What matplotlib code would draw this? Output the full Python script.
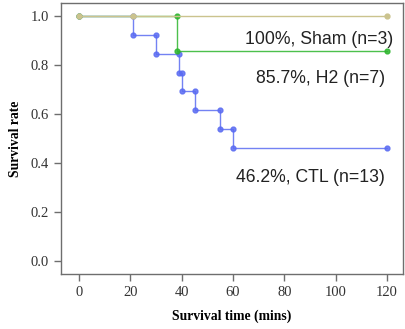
import matplotlib
matplotlib.use("Agg")
import matplotlib.pyplot as plt

# Kaplan-Meier step data (time in mins, survival rate)
ctl_t = [0, 21, 21, 30, 30, 39, 39, 40, 40, 45, 45, 55, 55, 60, 60, 120]
ctl_s = [1.0, 1.0, 0.923, 0.923, 0.846, 0.846, 0.769, 0.769, 0.692, 0.692, 0.615, 0.615, 0.538, 0.538, 0.462, 0.462]
h2_t = [0, 38, 38, 120]
h2_s = [1.0, 1.0, 0.857, 0.857]
sham_t = [0, 120]
sham_s = [1.0, 1.0]

labels = ["100%, Sham (n=3)", "85.7%, H2 (n=7)", "46.2%, CTL (n=13)"]
label_x = [122.4, 119.3, 119.3]
label_y = [0.906, 0.743, 0.339]

blue = "#5b6cf2"
green = "#2db52d"
tan = "#cbc38e"
frame = "#6e6e6e"

fig = plt.figure(figsize=(4.05, 3.29), dpi=100)
ax = fig.add_axes([61 / 405, 1 - 274 / 329, 342 / 405, 271 / 329])

ax.plot(ctl_t, ctl_s, color=blue, lw=1, marker="o", ms=3.5, alpha=0.85, zorder=2)
ax.plot(h2_t, h2_s, color=green, lw=1, marker="o", ms=3.5, alpha=0.85, zorder=3)
ax.plot(sham_t, sham_s, color=tan, lw=1, marker="o", ms=3.5, zorder=4)
# the first CTL event sits on the sham line and shows in its colour
ax.plot(ctl_t[1], ctl_s[1], color=tan, marker="o", ms=3.5, zorder=4)

for txt, xx, yy in zip(labels, label_x, label_y):
    ax.text(xx, yy, txt, ha="right", va="center", fontsize=12.7,
            family="Liberation Sans", color="#222222")

ax.set_xlim(-7, 126.2)
ax.set_ylim(-0.053, 1.053)
ax.set_xticks([0, 20, 40, 60, 80, 100, 120])
ax.set_yticks([0.0, 0.2, 0.4, 0.6, 0.8, 1.0])
ax.set_yticklabels(["0.0", "0.2", "0.4", "0.6", "0.8", "1.0"])

for sp in ax.spines.values():
    sp.set_color(frame)
    sp.set_linewidth(1)
ax.tick_params(direction="out", length=5, color=frame, width=1,
               labelsize=10.5, labelcolor="#333333")
for lab in ax.get_xticklabels() + ax.get_yticklabels():
    lab.set_family("Liberation Serif")

ax.set_xlabel("Survival time (mins)", family="Liberation Serif",
              fontweight="bold", fontsize=9.8, labelpad=8)
ax.set_ylabel("Survival rate", family="Liberation Serif",
              fontweight="bold", fontsize=9.8, labelpad=6)

fig.savefig("out.png", dpi=100)
